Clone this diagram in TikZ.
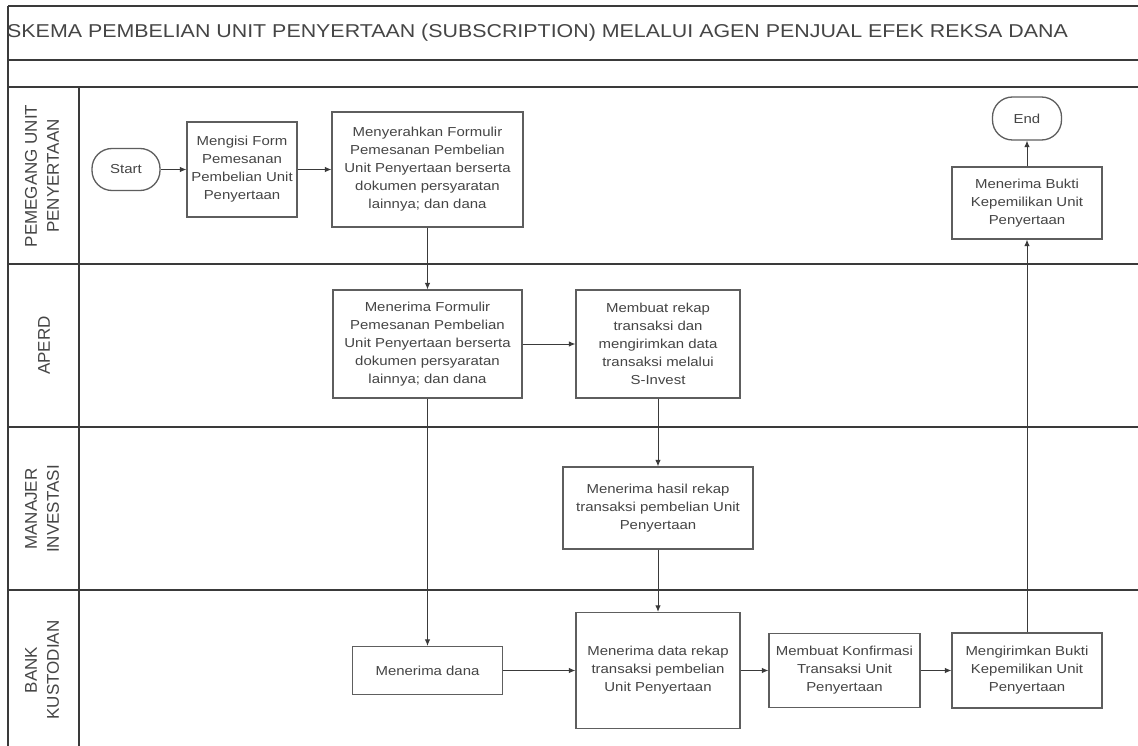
\documentclass[tikz,border=0pt]{standalone}
\usepackage{fontspec}
\setmainfont{Liberation Sans}
\newfontfamily\boxfont[FakeStretch=1.15]{Liberation Sans}
\usetikzlibrary{arrows.meta}
\definecolor{linec}{HTML}{3A3A3A}
\definecolor{boxc}{HTML}{5E5E5E}
\definecolor{txtc}{HTML}{454545}
\begin{document}
\begin{tikzpicture}[x=1pt,y=-1pt,
  frame/.style={draw=linec, line width=1.8pt},
  proc/.style={draw=boxc, line width=1.3pt, fill=white, align=center, text=txtc,
    font=\boxfont\fontsize{13}{18}\selectfont, inner sep=0pt},
  term/.style={proc, rounded corners=20pt},
  sz/.style 2 args={minimum width=#1pt, minimum height=#2pt},
  flow/.style={draw=linec, line width=0.9pt, -{Latex[length=6.5pt,width=5.5pt]}},
  lane/.style={rotate=90, align=center, text=txtc, font=\fontsize{17}{22}\selectfont},
  ttl/.style={anchor=west, text=txtc, inner sep=0pt, font=\boxfont\fontsize{18.6}{21}\selectfont}]
\useasboundingbox (0,0) rectangle (1138,746);
\fill[white] (0,0) rectangle (1138,746);
% swimlane frame
\draw[frame] (8,6) -- (1138,6);
\draw[frame] (8,60) -- (1138,60);
\draw[frame] (8,87) -- (1138,87);
\draw[frame] (8,264) -- (1138,264);
\draw[frame] (8,427) -- (1138,427);
\draw[frame] (8,590) -- (1138,590);
\draw[frame] (8,6) -- (8,746);
\draw[frame] (79,87) -- (79,746);
% title
\node[ttl] (title) at (7,33) {SKEMA PEMBELIAN UNIT PENYERTAAN (SUBSCRIPTION) MELALUI AGEN PENJUAL EFEK REKSA DANA};
% lane labels
\node[lane] (l1) at (42,176) {PEMEGANG UNIT\\PENYERTAAN};
\node[lane] (l2) at (44,345.5) {APERD};
\node[lane] (l3) at (42,509) {MANAJER\\INVESTASI};
\node[lane] (l4) at (42,670) {BANK\\KUSTODIAN};
% nodes
\node[term, sz={68}{42}] (start) at (126,169.5) {Start};
\node[proc, sz={110}{95}] (form) at (242,169.5) {Mengisi Form\\Pemesanan\\Pembelian Unit\\Penyertaan};
\node[proc, sz={191}{115}] (serah) at (427.5,169.5) {Menyerahkan Formulir\\Pemesanan Pembelian\\Unit Penyertaan berserta\\dokumen persyaratan\\lainnya; dan dana};
\node[term, sz={69}{43}] (end) at (1027,118.5) {End};
\node[proc, sz={150}{72}] (bukti) at (1027,203) {Menerima Bukti\\Kepemilikan Unit\\Penyertaan};
\node[proc, sz={189}{108}] (terima) at (427.5,344) {Menerima Formulir\\Pemesanan Pembelian\\Unit Penyertaan berserta\\dokumen persyaratan\\lainnya; dan dana};
\node[proc, sz={164}{108}] (rekap) at (658,344) {Membuat rekap\\transaksi dan\\mengirimkan data\\transaksi melalui\\S-Invest};
\node[proc, sz={190}{82}] (hasil) at (658,508) {Menerima hasil rekap\\transaksi pembelian Unit\\Penyertaan};
\node[proc, sz={150}{48}] (dana) at (427.5,670.5) {Menerima dana};
\node[proc, sz={164}{116}] (data) at (658,670.5) {Menerima data rekap\\transaksi pembelian\\Unit Penyertaan};
\node[proc, sz={151}{74}] (konf) at (844.5,670.5) {Membuat Konfirmasi\\Transaksi Unit\\Penyertaan};
\node[proc, sz={150}{75}] (kirim) at (1027,670.5) {Mengirimkan Bukti\\Kepemilikan Unit\\Penyertaan};
% connectors
\draw[flow] (start) -- (form);
\draw[flow] (form) -- (serah);
\draw[flow] (serah) -- (terima);
\draw[flow] (terima) -- (rekap);
\draw[flow] (terima) -- (dana);
\draw[flow] (rekap) -- (hasil);
\draw[flow] (hasil) -- (data);
\draw[flow] (dana) -- (data);
\draw[flow] (data) -- (konf);
\draw[flow] (konf) -- (kirim);
\draw[flow] (kirim) -- (bukti);
\draw[flow] (bukti) -- (end);
\end{tikzpicture}
\end{document}
